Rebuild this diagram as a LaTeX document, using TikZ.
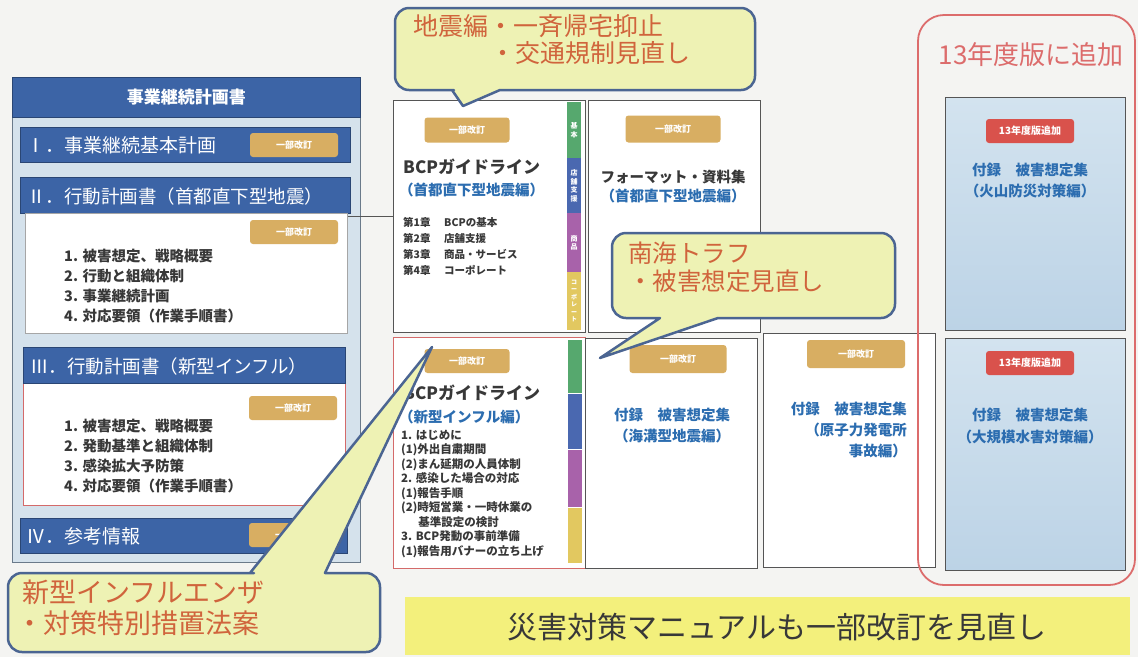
\documentclass[tikz,border=0pt]{standalone}
\usepackage{fontspec}
\setmainfont{Noto Sans CJK JP}
\newcommand\myfs[2]{\fontsize{#1}{#2}\selectfont}
\definecolor{paper}{HTML}{F4F4F2}
\definecolor{panelbg}{HTML}{D5E2EC}
\definecolor{panelline}{HTML}{6A7A8A}
\definecolor{barblue}{HTML}{3C64A6}
\definecolor{gold}{HTML}{D8AE62}
\definecolor{boxline}{HTML}{555555}
\definecolor{bluetext}{HTML}{2C6DB0}
\definecolor{darktext}{HTML}{383838}
\definecolor{sgreen}{HTML}{56A86E}
\definecolor{sblue}{HTML}{4A68B0}
\definecolor{spurple}{HTML}{A862AA}
\definecolor{syellow}{HTML}{E2C860}
\definecolor{cfill}{HTML}{EEF2B4}
\definecolor{cline}{HTML}{4B6592}
\definecolor{ctext}{HTML}{D0643C}
\definecolor{redframe}{HTML}{DC6C6C}
\definecolor{badgered}{HTML}{D9524C}
\definecolor{rtop}{HTML}{D3E3EF}
\definecolor{rbot}{HTML}{BCD3E6}
\definecolor{bannerfill}{HTML}{F3F07C}
\definecolor{redline}{HTML}{D46A6A}
\tikzset{
  panelbox/.style={draw=panelline, fill=panelbg, line width=0.8pt, inner sep=0, anchor=north west},
  bluebar/.style={fill=barblue, draw=barblue!70!black, line width=0.6pt, inner sep=0, anchor=north west},
  whitebox/.style={fill=white, draw=gray!70, line width=0.8pt, inner sep=0, anchor=north west},
  bartext/.style={text=white, font=\myfs{19}{19}, anchor=west, inner sep=0},
  badge/.style={fill=gold, rounded corners=3pt, text=white, font=\myfs{9}{9}\bfseries, minimum width=88pt, minimum height=24pt, inner sep=0},
  rbadge/.style={badge, fill=badgered, font=\myfs{10}{10}\bfseries},
  itemlist/.style={font=\myfs{14.5}{19.8}\bfseries, text=darktext, align=left, anchor=north west, inner sep=0},
  docbox/.style={draw=boxline, fill=white, line width=1pt, inner sep=0, anchor=north west},
  strip/.style={inner sep=0, anchor=north west, minimum width=14pt, text=white, font=\myfs{7}{8.5}\bfseries, align=center},
  doctitle/.style={font=\myfs{17}{17}\bfseries, text=darktext, anchor=west, inner sep=0},
  docsub/.style={font=\myfs{14.5}{14.5}\bfseries, text=bluetext, inner sep=0},
  smalllist/.style={font=\myfs{10.5}{16}\bfseries, text=darktext, align=left, anchor=north west, inner sep=0},
  callout/.style={fill=cfill, draw=cline, line width=2.5pt, line join=round},
  ctextstyle/.style={text=ctext, anchor=west, inner sep=0},
  rbox/.style={draw=boxline, line width=1pt, top color=rtop, bottom color=rbot, inner sep=0, anchor=north west}
}
\begin{document}
\begin{tikzpicture}[x=1pt,y=-1pt]
\useasboundingbox (0,0) rectangle (1138,657);
\fill[paper] (0,0) rectangle (1138,657);

% ---------- left panel ----------
\node[panelbox, minimum width=348pt, minimum height=485pt] (panel) at (12,77) {};
\node[bluebar, minimum width=348pt, minimum height=40pt, text=white, font=\myfs{17}{17}\bfseries] (ptitle) at (12,77) {事業継続計画書};

\node[bluebar, minimum width=330pt, minimum height=35pt] (s1) at (20,127) {};
\node[bartext] (s1t) at (26,145) {Ⅰ．事業継続基本計画};
\node[badge] (b1) at (294,145) {一部改訂};

\node[bluebar, minimum width=330pt, minimum height=36pt] (s2) at (20,177) {};
\node[bartext, font=\myfs{18.5}{18.5}] (s2t) at (27,196) {Ⅱ．行動計画書（首都直下型地震）};
\node[whitebox, minimum width=322pt, minimum height=120pt] (s2box) at (25,213) {};
\node[badge] (b2) at (294,232) {一部改訂};
\node[itemlist] (s2list) at (64,249) {1. 被害想定、戦略概要\\2. 行動と組織体制\\3. 事業継続計画\\4. 対応要領（作業手順書）};

\node[whitebox, draw=redline, line width=1.2pt, minimum width=322pt, minimum height=158pt] (s3box) at (23,347) {};
\node[bluebar, minimum width=322pt, minimum height=36pt] (s3) at (23,347) {};
\node[bartext, font=\myfs{18.5}{18.5}] (s3t) at (30,366) {Ⅲ．行動計画書（新型インフル）};
\node[badge] (b3) at (293,408) {一部改訂};
\node[itemlist] (s3list) at (64,419) {1. 被害想定、戦略概要\\2. 発動基準と組織体制\\3. 感染拡大予防策\\4. 対応要領（作業手順書）};

\node[bluebar, minimum width=327pt, minimum height=35pt] (s4) at (20,518) {};
\node[bartext] (s4t) at (26,536) {Ⅳ．参考情報};
\node[badge] (b4) at (293,535) {一部改訂};

% ---------- box A ----------
\node[docbox, minimum width=192pt, minimum height=232pt] (bcpA) at (393,100) {};
\node[strip, fill=sgreen, minimum height=56pt] (a1) at (567,102) {基\\本};
\node[strip, fill=sblue, minimum height=55pt] (a2) at (567,158) {店\\舗\\支\\援};
\node[strip, fill=spurple, minimum height=59pt] (a3) at (567,213) {商\\品};
\node[strip, fill=syellow, minimum height=58pt, font=\myfs{6}{7.5}\bfseries] (a4) at (567,272) {コ\\ー\\ポ\\レ\\ー\\ト};
\node[badge, minimum width=85pt, minimum height=25pt] (bA) at (467,130) {一部改訂};
\node[doctitle] (tA) at (403,167) {BCPガイドライン};
\node[docsub, anchor=west] (sA) at (399,190) {（首都直下型地震編）};
\node[smalllist] (lA) at (403,217) {第1章\hspace{1.3em}BCPの基本\\第2章\hspace{1.3em}店舗支援\\第3章\hspace{1.3em}商品・サービス\\第4章\hspace{1.3em}コーポレート};

\draw[boxline, line width=1pt] (bcpA.west -| s2box.east) -- (bcpA.west);

% ---------- box B ----------
\node[docbox, minimum width=172pt, minimum height=232pt] (fmtB) at (588,100) {};
\node[badge, minimum width=95pt, minimum height=27pt] (bB) at (673,129) {一部改訂};
\node[docsub, text=darktext] (tB) at (673,177) {フォーマット・資料集};
\node[docsub] (sB) at (673,196) {（首都直下型地震編）};

% ---------- box C ----------
\node[docbox, draw=redline, line width=1.2pt, minimum width=192pt, minimum height=231pt] (bcpC) at (393,337) {};
\node[strip, fill=sgreen, minimum height=53pt] (c1) at (568,340) {};
\node[strip, fill=sblue, minimum height=55pt] (c2) at (568,394) {};
\node[strip, fill=spurple, minimum height=57pt] (c3) at (568,450) {};
\node[strip, fill=syellow, minimum height=55pt] (c4) at (568,508) {};
\node[badge, minimum width=85pt, minimum height=24pt] (bC) at (467,361) {一部改訂};
\node[doctitle] (tC) at (403,393) {BCPガイドライン};
\node[docsub, anchor=west] (sC) at (399,417) {（新型インフル編）};
\node[smalllist, font=\myfs{11.5}{14.5}\bfseries] (lC) at (401,430) {1. はじめに\\(1)外出自粛期間\\(2)まん延期の人員体制\\2. 感染した場合の対応\\(1)報告手順\\(2)時短営業・一時休業の\\\hspace{1.5em}基準設定の検討\\3. BCP発動の事前準備\\(1)報告用バナーの立ち上げ};

% ---------- box D ----------
\node[docbox, minimum width=172pt, minimum height=230pt] (apxD) at (585,338) {};
\node[badge, minimum width=97pt, minimum height=28pt] (bD) at (678,359) {一部改訂};
\node[docsub] (tD) at (672,415) {付録　被害想定集};
\node[docsub] (sD) at (672,436) {（海溝型地震編）};

% ---------- box E ----------
\node[docbox, minimum width=172pt, minimum height=234pt] (apxE) at (763,333) {};
\node[badge, minimum width=98pt, minimum height=28pt] (bE) at (856,354) {一部改訂};
\node[docsub, align=right, anchor=north east, font=\myfs{14.5}{21}\bfseries] (tE) at (907,402) {付録　被害想定集\\（原子力発電所\\事故編）};

% ---------- right frame ----------
\draw[redframe, line width=1.8pt, rounded corners=26pt] (918,15) rectangle (1135,585);
\node[text=redframe, font=\myfs{26}{26}, inner sep=0] (addtitle) at (1031,55) {13年度版に追加};

\node[rbox, minimum width=180pt, minimum height=233pt] (volF) at (945,97) {};
\node[rbadge] (bF) at (1030,131) {13年度版追加};
\node[docsub] (tF) at (1030,170) {付録　被害想定集};
\node[docsub] (sF) at (1030,191) {（火山防災対策編）};

\node[rbox, minimum width=180pt, minimum height=232pt] (floodG) at (945,338) {};
\node[rbadge] (bG) at (1030,363) {13年度版追加};
\node[docsub] (tG) at (1030,415) {付録　被害想定集};
\node[docsub] (sG) at (1030,437) {（大規模水害対策編）};

% ---------- banner ----------
\node[fill=bannerfill, minimum width=725pt, minimum height=58pt, inner sep=0, anchor=north west] (banner) at (405,597) {};
\node[text=darktext, font=\myfs{30}{30}, inner sep=0] (bannertext) at (777,627) {災害対策マニュアルも一部改訂を見直し};

% ---------- callouts ----------
\draw[callout] (440,90) -- (452,90) -- (463,106) -- (500,90) -- (510,90) [rounded corners=14pt] -- (755,90) -- (755,8) -- (395,8) -- (395,90) -- cycle;
\node[ctextstyle, font=\myfs{25}{25}] (q1a) at (413,26) {地震編・一斉帰宅抑止};
\node[ctextstyle, font=\myfs{25}{25}] (q1b) at (490,53) {・交通規制見直し};

\draw[callout] (640,318) -- (660,318) -- (600,358) -- (718,318) -- (730,318) [rounded corners=14pt] -- (895,318) -- (895,233) -- (612,233) -- (612,318) -- cycle;
\node[ctextstyle, font=\myfs{24.5}{24.5}] (q2a) at (628,253) {南海トラフ};
\node[ctextstyle, font=\myfs{24.5}{24.5}] (q2b) at (628,281) {・被害想定見直し};

\draw[callout] (240,573) -- (250,573) -- (432,347) -- (325,573) -- (335,573) [rounded corners=14pt] -- (380,573) -- (380,652) -- (8,652) -- (8,573) -- cycle;
\node[ctextstyle, font=\myfs{27}{27}] (q3a) at (22,592) {新型インフルエンザ};
\node[ctextstyle, font=\myfs{27}{27}] (q3b) at (16,623) {・対策特別措置法案};
\end{tikzpicture}
\end{document}
